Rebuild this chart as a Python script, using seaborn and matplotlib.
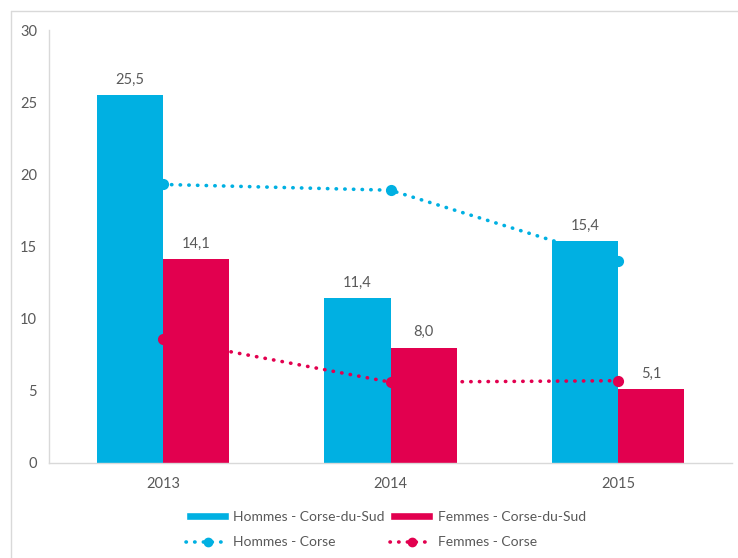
import numpy as np
import pandas as pd
import matplotlib
matplotlib.use("Agg")
import matplotlib.pyplot as plt
import seaborn as sns
from matplotlib.lines import Line2D
from matplotlib.patches import Patch

years = ["2013", "2014", "2015"]
hommes_cds = [25.5, 11.4, 15.4]
femmes_cds = [14.1, 8.0, 5.1]
hommes_corse = [19.3, 18.9, 14.0]
femmes_corse = [8.6, 5.6, 5.7]

bar_names = ["Hommes - Corse-du-Sud", "Femmes - Corse-du-Sud"]
line_names = ["Hommes - Corse", "Femmes - Corse"]
BLUE = "#00B0E2"
RED = "#E2004F"
GREY = "#595959"
DOTS = (0, (0.1, 2.3))

sns.set_style("white")
plt.rcParams["font.family"] = ["Lato", "DejaVu Sans"]

bars = pd.DataFrame({
    "year": years * 2,
    "value": hommes_cds + femmes_cds,
    "serie": [bar_names[0]] * 3 + [bar_names[1]] * 3,
})
lines = pd.DataFrame({
    "year": years * 2,
    "value": hommes_corse + femmes_corse,
    "serie": [line_names[0]] * 3 + [line_names[1]] * 3,
})

fig = plt.figure(figsize=(7.38, 5.58), dpi=100)
ax = fig.add_axes([49 / 738, 1 - 463 / 558, (732 - 49) / 738, (463 - 30) / 558])

sns.barplot(data=bars, x="year", y="value", hue="serie", palette=[BLUE, RED],
            order=years, width=0.58, gap=0, ax=ax, legend=False, saturation=1)
for p in ax.patches:
    p.set_zorder(2)
    p.set_edgecolor("none")

sns.pointplot(data=lines, x="year", y="value", hue="serie", palette=[BLUE, RED],
              order=years, markers="o", linestyles=":", dodge=False, ax=ax,
              legend=False, errorbar=None)
for ln in ax.lines:
    ln.set_linestyle(DOTS)
    ln.set_linewidth(2.6)
    ln.set_dash_capstyle("round")
    ln.set_markersize(6)
    ln.set_zorder(3)

for cont in ax.containers:
    labels = [f"{v:.1f}".replace(".", ",") for v in cont.datavalues]
    ax.bar_label(cont, labels=labels, padding=6, fontsize=10.5, color=GREY)

ax.set_xlim(-0.5, 2.5)
ax.set_ylim(0, 30)
ax.set_yticks([0, 5, 10, 15, 20, 25, 30])
ax.set_xlabel("")
ax.set_ylabel("")
for s in ["top", "right"]:
    ax.spines[s].set_visible(False)
for s in ["left", "bottom"]:
    ax.spines[s].set_color("#D9D9D9")
    ax.spines[s].set_linewidth(1)
ax.tick_params(axis="y", length=3.6, color="#D9D9D9", labelsize=10.5, labelcolor=GREY, pad=5)
ax.tick_params(axis="x", length=0, labelsize=10.5, labelcolor=GREY, pad=10)

handles = [
    Patch(facecolor=BLUE, label=bar_names[0]),
    Line2D([], [], color=BLUE, linestyle=DOTS, linewidth=2.6,
           dash_capstyle="round", marker="o", markersize=6, label=line_names[0]),
    Patch(facecolor=RED, label=bar_names[1]),
    Line2D([], [], color=RED, linestyle=DOTS, linewidth=2.6,
           dash_capstyle="round", marker="o", markersize=6, label=line_names[1]),
]
leg = fig.legend(handles=handles, loc="center", bbox_to_anchor=(0.523, 0.0505), ncol=2,
                 frameon=False, fontsize=10, handlelength=3.1, handleheight=0.5,
                 handletextpad=0.3, columnspacing=0.4, labelspacing=0.95)
for t in leg.get_texts():
    t.set_color(GREY)

fig.add_artist(Line2D([11 / 738, 1], [1 - 10.5 / 558] * 2, transform=fig.transFigure,
                      color="#D9D9D9", linewidth=1))
fig.add_artist(Line2D([11 / 738] * 2, [0, 1 - 10.5 / 558], transform=fig.transFigure,
                      color="#D9D9D9", linewidth=1))

fig.savefig("out.png", dpi=100)
